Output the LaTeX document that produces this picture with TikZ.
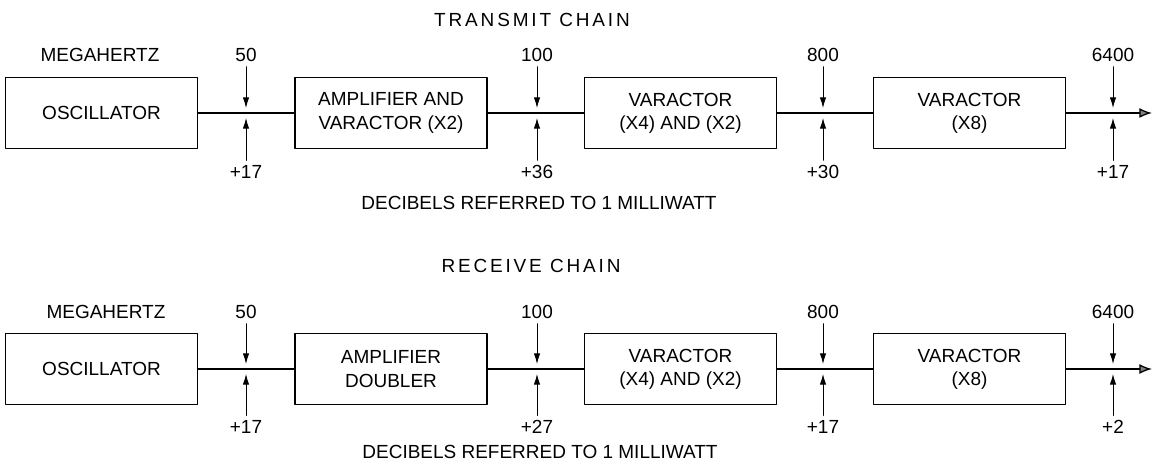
\documentclass[tikz,border=0pt]{standalone}
\usepackage{fontspec}
\setmainfont{Liberation Sans}
\newfontfamily\spacedfont[LetterSpace=15]{Liberation Sans}
\usetikzlibrary{arrows.meta}
\tikzset{
  blk/.style={draw, line width=1.1pt, minimum width=4.8cm, minimum height=1.775cm, align=center, inner sep=0pt},
  title/.style={font=\fontsize{13.5}{16.5}\spacedfont},
  tick/.style={line width=0.6pt, -{Latex[length=7.5pt,width=4.5pt]}},
  wire/.style={line width=0.9pt},
  outarrow/.style={line width=0.9pt, -{Latex[length=9pt,width=7pt,fill=gray]}}
}
\begin{document}
\begin{tikzpicture}[x=0.025cm, y=-0.025cm, line cap=round, line join=round, font=\fontsize{13.5}{16.5}\selectfont]
  \useasboundingbox (0,0) rectangle (1155,464);

  % transmit chain
  \node[title] (tTitle) at (532,20) {TRANSMIT CHAIN};
  \node (tMhz) at (100,55) {MEGAHERTZ};
  \node[blk] (tOsc) at (101.5,113) {OSCILLATOR};
  \node[blk] (tAmp) at (391,113) {AMPLIFIER AND\\VARACTOR (X2)};
  \node[blk] (tVar) at (680.5,113) {VARACTOR\\(X4) AND (X2)};
  \node[blk] (tMul) at (969.5,113) {VARACTOR\\(X8)};
  \coordinate (tOut) at (1152,113);

  \draw[wire] (tOsc) -- (tAmp);
  \draw[wire] (tAmp) -- (tVar);
  \draw[wire] (tVar) -- (tMul);
  \draw[outarrow] (tMul) -- (tOut);

  \node (tF1) at (246,55) {50};
  \node (tF2) at (537,55) {100};
  \node (tF3) at (823,55) {800};
  \node (tF4) at (1113,55) {6400};
  \node (tP1) at (246,172) {+17};
  \node (tP2) at (537,172) {+36};
  \node (tP3) at (823,172) {+30};
  \node (tP4) at (1113,172) {+17};
  \coordinate (tF1e) at (246,108);
  \coordinate (tF2e) at (537,108);
  \coordinate (tF3e) at (823,108);
  \coordinate (tF4e) at (1113,108);
  \coordinate (tP1e) at (246,118);
  \coordinate (tP2e) at (537,118);
  \coordinate (tP3e) at (823,118);
  \coordinate (tP4e) at (1113,118);
  \draw[tick] (tF1) -- (tF1e);
  \draw[tick] (tF2) -- (tF2e);
  \draw[tick] (tF3) -- (tF3e);
  \draw[tick] (tF4) -- (tF4e);
  \draw[tick] (tP1) -- (tP1e);
  \draw[tick] (tP2) -- (tP2e);
  \draw[tick] (tP3) -- (tP3e);
  \draw[tick] (tP4) -- (tP4e);
  \node (tDb) at (539,203) {DECIBELS REFERRED TO 1 MILLIWATT};

  % receive chain
  \node[title] (rTitle) at (531,266) {RECEIVE CHAIN};
  \node (rMhz) at (106,312) {MEGAHERTZ};
  \node[blk] (rOsc) at (101.5,369) {OSCILLATOR};
  \node[blk] (rAmp) at (391,369) {AMPLIFIER\\DOUBLER};
  \node[blk] (rVar) at (680.5,369) {VARACTOR\\(X4) AND (X2)};
  \node[blk] (rMul) at (969.5,369) {VARACTOR\\(X8)};
  \coordinate (rOut) at (1152,369);

  \draw[wire] (rOsc) -- (rAmp);
  \draw[wire] (rAmp) -- (rVar);
  \draw[wire] (rVar) -- (rMul);
  \draw[outarrow] (rMul) -- (rOut);

  \node (rF1) at (246,312) {50};
  \node (rF2) at (537,312) {100};
  \node (rF3) at (823,312) {800};
  \node (rF4) at (1113,312) {6400};
  \node (rP1) at (246,427) {+17};
  \node (rP2) at (537,427) {+27};
  \node (rP3) at (823,427) {+17};
  \node (rP4) at (1113,427) {+2};
  \coordinate (rF1e) at (246,364);
  \coordinate (rF2e) at (537,364);
  \coordinate (rF3e) at (823,364);
  \coordinate (rF4e) at (1113,364);
  \coordinate (rP1e) at (246,374);
  \coordinate (rP2e) at (537,374);
  \coordinate (rP3e) at (823,374);
  \coordinate (rP4e) at (1113,374);
  \draw[tick] (rF1) -- (rF1e);
  \draw[tick] (rF2) -- (rF2e);
  \draw[tick] (rF3) -- (rF3e);
  \draw[tick] (rF4) -- (rF4e);
  \draw[tick] (rP1) -- (rP1e);
  \draw[tick] (rP2) -- (rP2e);
  \draw[tick] (rP3) -- (rP3e);
  \draw[tick] (rP4) -- (rP4e);
  \node (rDb) at (540,452) {DECIBELS REFERRED TO 1 MILLIWATT};
\end{tikzpicture}
\end{document}
